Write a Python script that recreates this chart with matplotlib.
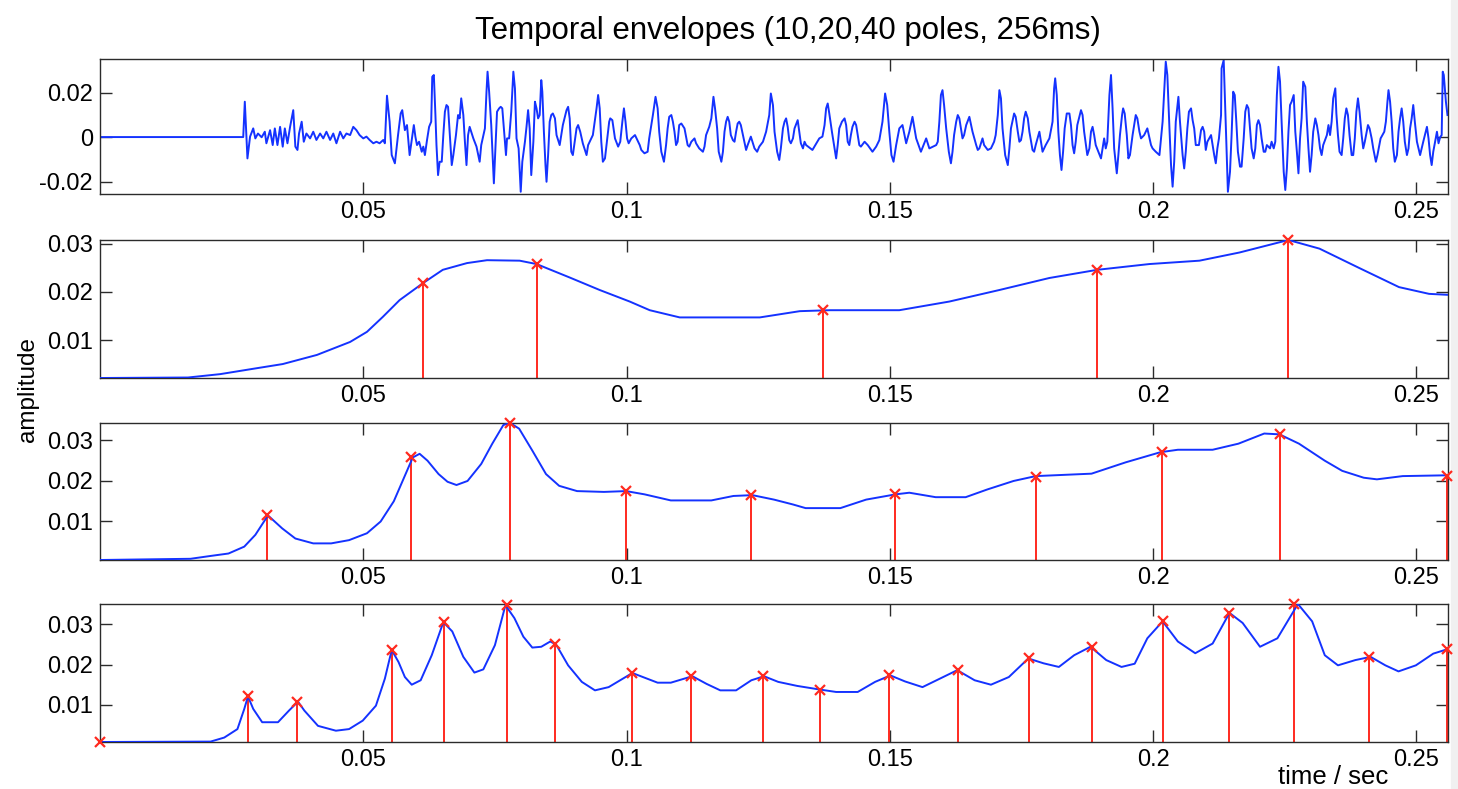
import numpy as np
import matplotlib
matplotlib.use('Agg')
import matplotlib.pyplot as plt
from matplotlib.patches import Rectangle

# ---- speech waveform (time in ms, amplitude in 1e-3)
wave_ms = [0.0, 27.2, 27.5, 28.0, 28.5, 29.1, 29.5, 30.0, 30.7, 31.3, 31.6, 32.3, 32.8, 33.2, 33.7, 34.2,
           34.7, 35.1, 35.6, 36.1, 36.7, 37.1, 37.5, 37.8, 38.3, 38.7, 39.2, 39.9, 40.5, 41.1, 41.8, 42.4,
           43.0, 43.7, 44.3, 44.9, 45.6, 46.2, 46.8, 47.5, 48.1, 48.7, 49.3, 50.0, 50.6, 51.2, 51.9, 52.5,
           53.1, 53.8, 54.1, 54.5, 55.0, 55.4, 56.0, 56.6, 57.1, 57.4, 57.9, 58.3, 58.8, 59.2, 59.6, 59.9,
           60.2, 60.6, 61.1, 61.4, 61.7, 62.1, 62.5, 62.9, 63.1, 63.4, 63.7, 63.9, 64.2, 64.5, 64.9, 65.2,
           65.5, 65.8, 66.1, 66.4, 66.8, 67.1, 67.6, 68.0, 68.3, 68.6, 69.0, 69.3, 69.6, 69.9, 70.2, 70.5,
           70.9, 71.5, 72.1, 72.4, 73.1, 73.4, 73.6, 73.9, 74.3, 74.8, 75.2, 75.4, 75.8, 76.1, 76.4, 76.7,
           77.1, 77.3, 77.7, 78.1, 78.5, 78.8, 79.1, 79.5, 79.9, 80.2, 80.7, 81.0, 81.3, 81.6, 81.9, 82.3,
           82.6, 82.9, 83.2, 83.5, 83.8, 84.0, 84.3, 84.6, 84.8, 85.1, 85.4, 85.7, 86.0, 86.4, 86.7, 87.3,
           87.9, 88.6, 88.9, 89.2, 89.5, 89.8, 90.5, 90.8, 91.2, 91.7, 92.4, 92.7, 93.6, 94.3, 94.6, 94.9,
           95.2, 95.5, 95.9, 96.7, 96.9, 97.3, 97.8, 98.4, 98.8, 99.2, 99.5, 99.8, 100.1, 100.4, 100.9, 101.6,
           102.5, 102.8, 103.4, 104.0, 104.3, 105.0, 105.5, 105.9, 106.2, 106.6, 107.1, 107.5, 107.8, 108.1,
           108.5, 108.8, 109.1, 109.4, 109.7, 110.0, 110.4, 111.0, 111.6, 111.9, 112.3, 112.9, 113.2, 113.8,
           114.5, 114.8, 115.1, 115.7, 116.1, 116.5, 116.8, 117.2, 117.5, 118.0, 118.3, 118.6, 118.9, 119.2,
           119.5, 119.8, 120.2, 120.5, 120.8, 121.1, 121.4, 121.7, 122.1, 122.7, 123.0, 123.6, 124.3, 124.8,
           125.2, 125.9, 126.5, 127.1, 127.4, 127.8, 128.1, 128.6, 129.0, 129.3, 129.7, 130.0, 130.3, 130.6,
           130.9, 131.2, 131.6, 131.9, 132.5, 132.8, 133.1, 133.5, 133.8, 134.1, 135.3, 136.6, 137.2, 137.6,
           137.9, 138.2, 138.5, 139.0, 139.5, 139.8, 140.1, 140.4, 140.9, 141.4, 141.7, 142.0, 142.3, 142.6,
           142.9, 143.3, 143.6, 143.9, 144.2, 144.5, 145.2, 145.8, 146.7, 147.4, 148.0, 148.6, 149.1, 149.5,
           149.9, 150.3, 150.7, 151.2, 151.8, 152.4, 153.1, 153.7, 154.3, 155.0, 155.9, 156.9, 157.5, 158.8,
           159.1, 159.4, 159.7, 160.0, 160.3, 160.7, 161.2, 161.6, 161.9, 162.2, 162.6, 162.9, 163.2, 163.5,
           163.8, 164.1, 164.5, 165.1, 165.7, 166.4, 166.7, 167.0, 167.6, 167.9, 168.6, 169.2, 169.8, 170.1,
           170.5, 170.8, 171.1, 171.4, 171.9, 172.4, 172.7, 173.0, 173.6, 173.9, 174.3, 174.6, 174.9, 175.2,
           175.5, 175.8, 176.2, 176.5, 177.1, 177.4, 177.7, 178.4, 179.0, 179.6, 180.3, 180.9, 181.2, 181.4,
           181.7, 182.0, 182.3, 182.6, 182.9, 183.2, 183.6, 184.1, 184.4, 184.7, 185.0, 185.3, 185.6, 186.3,
           186.6, 186.9, 187.5, 187.9, 188.2, 188.5, 188.8, 189.1, 190.1, 190.4, 190.7, 191.0, 191.3, 191.7,
           192.0, 192.3, 192.6, 193.1, 193.4, 193.7, 194.1, 194.3, 194.6, 195.0, 195.3, 195.6, 196.1, 196.7,
           197.0, 197.4, 197.7, 198.3, 198.9, 199.6, 199.9, 200.5, 201.2, 201.8, 202.4, 202.7, 203.1, 203.4,
           203.7, 204.0, 204.3, 204.8, 205.1, 205.6, 205.9, 206.2, 206.5, 206.8, 207.2, 207.5, 207.8, 208.1,
           208.7, 209.1, 209.4, 209.7, 210.0, 210.3, 211.0, 211.3, 211.6, 211.9, 212.2, 212.5, 212.9, 213.0,
           213.4, 213.6, 213.9, 214.2, 214.6, 214.9, 215.2, 215.5, 215.8, 216.1, 216.5, 216.8, 217.2, 217.5,
           217.8, 218.1, 218.4, 218.7, 219.1, 219.4, 219.7, 220.0, 220.3, 220.6, 221.0, 221.3, 221.6, 222.2,
           222.5, 222.9, 223.2, 223.5, 223.8, 224.1, 224.4, 224.8, 225.1, 225.4, 225.7, 226.0, 226.3, 226.7,
           227.0, 227.3, 227.6, 227.9, 228.2, 228.5, 228.9, 229.2, 229.5, 229.8, 230.1, 230.4, 230.8, 231.1,
           231.4, 231.7, 232.0, 232.3, 233.0, 233.3, 233.6, 233.9, 234.2, 234.6, 234.8, 235.1, 235.4, 235.8,
           236.1, 236.4, 236.7, 237.0, 237.3, 237.7, 238.0, 238.3, 238.6, 238.9, 239.2, 239.6, 239.9, 240.2,
           240.8, 241.1, 241.5, 241.8, 242.3, 242.6, 243.2, 243.9, 244.2, 244.5, 244.7, 245.0, 245.3, 245.6,
           245.9, 246.3, 246.6, 246.9, 247.2, 247.5, 247.8, 248.2, 248.5, 248.8, 249.1, 249.4, 249.7, 250.1,
           250.7, 251.3, 252.0, 252.3, 252.6, 252.9, 253.2, 253.9, 254.2, 254.5, 254.8, 255.0, 255.2, 255.6,
           255.9]
wave_amp = [0.0, 0.0, 15.9, -9.6, 0.2, 3.9, -0.6, 1.6, -0.1, 2.4, -2.8, 3.1, -3.6, 3.9, -3.6, 4.6,
            -4.3, 3.9, -2.8, 4.6, 12.1, -4.3, -5.8, 1.6, 6.9, -2.1, 1.6, -0.6, 2.4, -1.3, 1.6, -0.6,
            2.4, -1.3, 1.6, -2.8, 2.4, -0.6, 1.6, 0.9, 4.6, 3.1, 0.9, -0.6, 0.2, -1.3, -2.8, -2.1,
            -2.8, -1.3, -2.8, 18.6, 6.9, -8.1, -11.8, 0.9, 10.6, 12.1, 3.1, 5.4, -8.1, -1.4, 5.4, 0.1,
            -3.6, -2.1, -6.6, -4.3, -8.1, -1.4, 4.6, 6.9, 27.1, 27.9, 9.9, -3.6, -17.1, -11.1, -11.1, 0.9,
            11.4, 14.4, 13.6, 2.4, -12.6, -8.1, 0.9, 9.9, 8.4, 17.4, 9.9, -2.1, -12.6, 0.9, 4.6, 2.4,
            -0.6, -4.3, -11.1, -3.6, 3.9, 20.4, 29.4, 20.4, 5.4, -20.8, 0.9, 11.4, 12.9, 13.6, 12.9, 3.9,
            -8.1, -0.6, -0.6, 11.4, 29.4, 21.9, -0.6, -5.1, -24.6, -11.1, -2.1, 4.6, 12.1, 3.9, -17.1, -2.1,
            15.9, 12.9, 8.4, 9.9, 25.6, 20.4, 2.4, -12.6, -20.1, -8.1, 6.9, 9.9, 10.6, 8.4, 0.9, -3.6,
            5.4, 12.1, 13.6, 8.4, -6.6, -8.1, 3.9, 5.4, 2.4, -2.9, -8.1, -3.6, 0.9, 12.9, 18.9, 12.9,
            -2.1, -11.1, -9.6, 6.9, 8.4, 7.6, -0.6, -4.3, -2.1, 6.9, 12.9, 6.9, -0.6, -2.8, -0.6, 0.9,
            -3.6, -5.8, -7.3, -6.6, -0.6, 9.9, 18.1, 12.9, 2.4, -6.6, -11.1, -3.6, 3.9, 9.1,
            9.9, 6.9, 2.4, -3.6, -2.1, 5.4, 6.1, 3.9, -3.6, -4.3, -2.1, -0.6, -2.8, -5.1,
            -6.6, -4.3, 0.9, 4.6, 8.4, 18.1, 12.9, 3.9, -6.6, -11.1, -6.6, 2.4, 6.9, 9.1,
            6.9, 0.9, -1.4, -2.1, 2.4, 6.1, 6.9, 5.4, 0.9, -5.8, -3.6, 0.2, -5.1, -6.6,
            -4.3, -2.1, 2.4, 9.9, 19.6, 14.4, 2.4, -6.6, -10.3, -5.1, 3.9, 6.9, 8.4, 4.6,
            -1.4, -2.8, -0.6, 3.9, 7.6, 2.4, -2.8, -5.1, -2.1, -3.6, -5.8, -0.6, 0.2, 5.4,
            12.9, 15.1, 10.6, 2.4, -5.1, -9.6, -3.6, 3.9, 6.9, 8.4, 5.4, -2.1, -3.6, 0.9,
            4.6, 6.9, 5.4, 0.9, -3.6, -4.3, -2.1, -3.6, -6.6, -4.3, -1.4, 6.9, 19.6, 14.4,
            2.4, -8.1, -11.1, -3.6, 3.9, 5.4, -2.8, 2.4, 9.1, -0.6, -6.6, -0.6, -5.1, -3.6,
            -2.1, 6.9, 18.9, 21.1, 14.4, 3.9, -6.6, -11.8, -6.6, 0.9, 6.9, 9.9, 8.4, 3.9,
            -0.6, 0.9, 5.4, 9.1, 2.4, -3.6, -5.8, -5.1, -0.6, -3.6, -5.8, -5.1, -2.1, 0.9,
            9.9, 21.1, 17.4, 3.9, -8.1, -12.6, -5.1, 3.9, 10.6, 9.1, 2.4, -2.1, -1.4, 2.4,
            8.4, 11.4, 8.4, 2.4, -5.8, -6.6, -3.6, 2.4, -6.6, -3.6, -0.6, 6.9, 21.9, 26.4,
            18.9, 2.4, -8.1, -14.8, -6.6, 3.9, 10.6, 10.6, 5.4, -3.6, -7.3, -2.1, 5.4, 12.1,
            9.9, 2.4, -8.1, -5.1, 2.4, 4.6, 0.9, -3.6, -9.6, -5.1, -0.6, -5.1, -2.1, 18.9,
            27.9, 12.9, -5.1, -16.3, -8.1, 0.9, 9.9, 12.9, 10.6, 0.9, -9.6, -8.1, 0.9, 9.9,
            8.4, 2.4, -0.6, 0.9, 3.9, -3.6, -5.1, -6.6, -8.1, 6.9, 33.9, 27.9, 3.9, -12.6,
            -22.3, -11.1, 6.9, 18.1, 6.9, -8.1, -14.1, -6.6, 3.9, 11.4, 12.9, 7.6, 3.9, -3.6,
            -3.6, 3.1, 4.6, 2.4, -5.8, -2.1, 0.9, -3.6, -8.1, -11.8, -5.1, -0.6, 9.9, 30.9,
            34.6, 20.4, -2.1, -24.6, -15.6, 0.9, 20.4, 18.9, 6.9, -6.6, -13.3, -13.3, -0.6, 11.4,
            14.4, 12.9, 3.9, -5.1, -9.6, -5.1, 5.4, 7.6, 5.4, -0.6, -6.6, -6.6, -3.6, -5.1,
            -2.1, -5.1, -2.1, 18.9, 31.6, 24.9, 6.9, -15.6, -23.8, -14.1, 2.4, 14.4, 15.9, 18.9,
            2.4, -6.6, -16.3, -0.6, 8.4, 24.9, 22.6, 6.9, -5.1, -15.6, -8.1, 2.4, 8.4, 5.4,
            0.9, -5.1, -8.1, -3.6, 0.9, 5.4, 0.9, 6.9, 17.4, 21.9, 10.6, 0.9, -6.6, -8.1,
            -0.6, 8.4, 12.9, 9.9, 0.9, -8.1, -8.1, -0.6, 11.4, 17.4, 11.4, 0.9, -5.1, -2.1,
            5.4, 3.9, -0.6, -5.1, -11.1, -8.1, -0.6, 2.4, 6.9, 15.9, 21.1, 15.9, 6.9, -5.1,
            -11.1, -8.1, 2.4, 8.4, 12.9, 6.9, -2.1, -8.1, -5.1, 3.9, 8.4, 14.4, 6.9, -2.1,
            -8.1, -2.1, 4.6, -0.6, -8.1, -12.6, -6.6, 2.4, -2.8, -0.1, 0.9, 29.4, 27.9, 15.9,
            9.9]

# ---- 10-pole envelope
env10_ms = [0.0, 16.7, 22.8, 29.0, 34.7, 41.2, 47.5, 50.7, 53.7, 56.9, 61.3, 65.1, 69.7, 73.5, 79.7,
            82.9, 89.2, 94.9, 100.6, 104.4, 110.1, 125.3, 132.9, 138.6, 151.8, 161.3, 170.8, 180.3,
            189.4, 199.3, 208.8, 216.4, 225.7, 231.6, 239.1, 246.7, 252.4, 255.9]
env10 = [0.0021, 0.0022, 0.0029, 0.0040, 0.0050, 0.0069, 0.0096, 0.0117, 0.0148, 0.0183, 0.0218,
         0.0246, 0.0260, 0.0266, 0.0265, 0.0258, 0.0230, 0.0204, 0.0180, 0.0162, 0.0147, 0.0147,
         0.0160, 0.0162, 0.0162, 0.0180, 0.0204, 0.0229, 0.0246, 0.0258, 0.0265, 0.0282, 0.0308,
         0.0290, 0.0250, 0.0210, 0.0196, 0.0194]
poles10_ms = [61.3, 82.9, 137.4, 189.4, 225.7]
poles10 = [0.0218, 0.0258, 0.0162, 0.0246, 0.0308]

# ---- 20-pole envelope
env20_ms = [0.0, 17.2, 21.0, 24.4, 27.4, 29.5, 31.9, 34.6, 37.1, 40.5, 43.9, 47.3, 50.7, 53.3, 55.8,
            57.9, 59.4, 60.7, 62.2, 64.3, 66.0, 67.7, 69.8, 72.4, 74.5, 76.6, 77.9, 79.6, 82.1, 84.7,
            87.2, 90.6, 95.7, 99.9, 103.4, 108.4, 116.1, 120.3, 123.9, 128.0, 131.6, 134.0, 140.6,
            145.5, 151.1, 153.7, 158.7, 164.4, 168.5, 173.5, 177.7, 188.3, 194.8, 201.4, 204.7, 211.3,
            216.2, 221.1, 224.0, 227.7, 232.6, 235.9, 240.0, 242.5, 247.4, 255.9]
env20 = [0.0005, 0.0008, 0.0015, 0.0021, 0.0038, 0.0067, 0.0115, 0.0083, 0.0058, 0.0046, 0.0046,
         0.0054, 0.0071, 0.0100, 0.0150, 0.0213, 0.0258, 0.0267, 0.0250, 0.0217, 0.0198, 0.0190,
         0.0200, 0.0242, 0.0292, 0.0338, 0.0343, 0.0329, 0.0275, 0.0217, 0.0188, 0.0175, 0.0173,
         0.0175, 0.0167, 0.0152, 0.0152, 0.0163, 0.0165, 0.0154, 0.0142, 0.0133, 0.0133, 0.0154,
         0.0167, 0.0171, 0.0160, 0.0160, 0.0179, 0.0200, 0.0212, 0.0218, 0.0246, 0.0271, 0.0277,
         0.0277, 0.0292, 0.0317, 0.0315, 0.0292, 0.0250, 0.0225, 0.0208, 0.0204, 0.0212, 0.0214]
poles20_ms = [31.7, 59.0, 77.8, 99.8, 123.7, 150.9, 177.7, 201.6, 224.0, 255.9]
poles20 = [0.0115, 0.0258, 0.0343, 0.0175, 0.0165, 0.0167, 0.0210, 0.0271, 0.0315, 0.0213]

# ---- 40-pole envelope
env40_ms = [0.0, 21.0, 23.6, 26.1, 27.4, 28.1, 29.1, 30.8, 33.8, 35.9, 37.6, 38.8, 41.4, 44.8, 47.3,
            49.9, 52.4, 54.1, 55.4, 56.7, 57.9, 59.2, 60.9, 63.0, 65.2, 66.9, 69.0, 71.1, 72.8, 75.0,
            77.0, 78.7, 80.4, 82.1, 83.8, 85.5, 86.6, 88.9, 91.5, 94.0, 96.6, 101.1, 105.9, 108.4,
            112.5, 115.2, 117.8, 120.8, 123.7, 126.1, 128.8, 132.4, 136.7, 139.8, 143.9, 147.2, 150.1,
            152.9, 156.2, 159.5, 162.8, 166.1, 169.2, 172.6, 176.3, 179.2, 182.1, 185.0, 188.1, 191.1,
            194.0, 196.5, 198.9, 201.8, 204.7, 208.0, 211.3, 214.5, 217.0, 220.3, 223.6, 227.5, 230.2,
            232.6, 235.1, 238.4, 241.3, 244.1, 246.6, 249.9, 253.2, 255.9]
env40 = [0.0008, 0.0009, 0.0019, 0.0040, 0.0090, 0.0121, 0.0090, 0.0057, 0.0057, 0.0086, 0.0108,
         0.0086, 0.0048, 0.0036, 0.0040, 0.0061, 0.0098, 0.0165, 0.0236, 0.0206, 0.0169, 0.0150,
         0.0161, 0.0223, 0.0305, 0.0282, 0.0219, 0.0180, 0.0188, 0.0248, 0.0347, 0.0315, 0.0269,
         0.0242, 0.0244, 0.0257, 0.0250, 0.0198, 0.0157, 0.0136, 0.0144, 0.0179, 0.0155, 0.0155,
         0.0171, 0.0152, 0.0136, 0.0136, 0.0161, 0.0171, 0.0157, 0.0147, 0.0138, 0.0132, 0.0132,
         0.0157, 0.0173, 0.0158, 0.0144, 0.0165, 0.0186, 0.0161, 0.0150, 0.0169, 0.0215, 0.0203,
         0.0194, 0.0223, 0.0244, 0.0211, 0.0194, 0.0202, 0.0265, 0.0307, 0.0257, 0.0228, 0.0252,
         0.0328, 0.0303, 0.0244, 0.0265, 0.0350, 0.0307, 0.0223, 0.0198, 0.0211, 0.0219, 0.0198,
         0.0183, 0.0198, 0.0227, 0.0238]
poles40_ms = [0.0, 28.1, 37.4, 55.4, 65.3, 77.2, 86.5, 101.0, 112.2, 126.0, 136.7, 149.9, 162.9,
              176.5, 188.3, 201.8, 214.5, 226.8, 241.0, 255.9]
poles40 = [0.0008, 0.0121, 0.0108, 0.0236, 0.0305, 0.0347, 0.0250, 0.0179, 0.0171, 0.0171, 0.0138,
           0.0173, 0.0186, 0.0215, 0.0244, 0.0307, 0.0328, 0.0350, 0.0219, 0.0238]

xticks = [0.05, 0.1, 0.15, 0.2, 0.25]
xticklabels = ['0.05', '0.1', '0.15', '0.2', '0.25']

BLUE = '#1432ff'
RED = '#ff2a1f'
FRAME = '#2b2b2b'

plt.rcParams['font.family'] = ['Liberation Sans', 'DejaVu Sans']

fig = plt.figure(figsize=(14.58, 7.89), dpi=100)
W, H = 1458., 789.
# axes boxes in pixel coords of the reference: (top, bottom)
boxes = [(59, 194), (240, 378), (423, 560), (604, 742)]
axes = []
for top, bot in boxes:
  ax = fig.add_axes([100/W, 1-bot/H, 1348/W, (bot-top)/H])
  axes.append(ax)

def style(ax, ylim, yticks, yticklabels):
  ax.set_xlim(0, 0.256)
  ax.set_ylim(*ylim)
  ax.set_xticks(xticks)
  ax.set_xticklabels(xticklabels)
  ax.set_yticks(yticks)
  ax.set_yticklabels(yticklabels)
  ax.tick_params(direction='in', top=True, right=True, length=8.5, width=1.0,
                 color=FRAME, labelsize=17, pad=5)
  for sp in ax.spines.values():
    sp.set_linewidth(1.0)
    sp.set_color(FRAME)

# top panel: waveform
t = np.array(wave_ms)/1000.
y = np.array(wave_amp)/1000.
axes[0].plot(t, y, color=BLUE, lw=1.4)
style(axes[0], (-0.0256, 0.0351), [-0.02, 0, 0.02], ['-0.02', '0', '0.02'])

# envelopes with pole positions
env_sets = [(env10_ms, env10, poles10_ms, poles10),
            (env20_ms, env20, poles20_ms, poles20),
            (env40_ms, env40, poles40_ms, poles40)]
ylims = [(0.0021, 0.0308), (0.0005, 0.0343), (0.0008, 0.0350)]
for ax, (ems, ev, pms, pv), yl in zip(axes[1:], env_sets, ylims):
  pt = np.array(pms)/1000.
  ax.vlines(pt, yl[0], pv, color=RED, lw=1.4, zorder=2)
  ax.plot(np.array(ems)/1000., ev, color=BLUE, lw=1.4, zorder=3)
  ax.plot(pt, pv, 'x', color=RED, ms=7, mew=1.6, zorder=4, clip_on=False)
  style(ax, yl, [0.01, 0.02, 0.03], ['0.01', '0.02', '0.03'])

fig.text(788/W, 1-31/H, 'Temporal envelopes (10,20,40 poles, 256ms)', ha='center', va='center', fontsize=22.5)
fig.text(28/W, 1-390/H, 'amplitude', ha='center', va='center', rotation=90, fontsize=17.5)
fig.text(1333/W, 1-777/H, 'time / sec', ha='center', va='center', fontsize=18.5)

# light grey strip at the right edge of the screenshot
fig.patches.append(Rectangle((1451/W, 0), 7/W, 1, transform=fig.transFigure, color='#f0f0f0', zorder=-1))

plt.savefig('out.png', dpi=100)
plt.close(fig)
